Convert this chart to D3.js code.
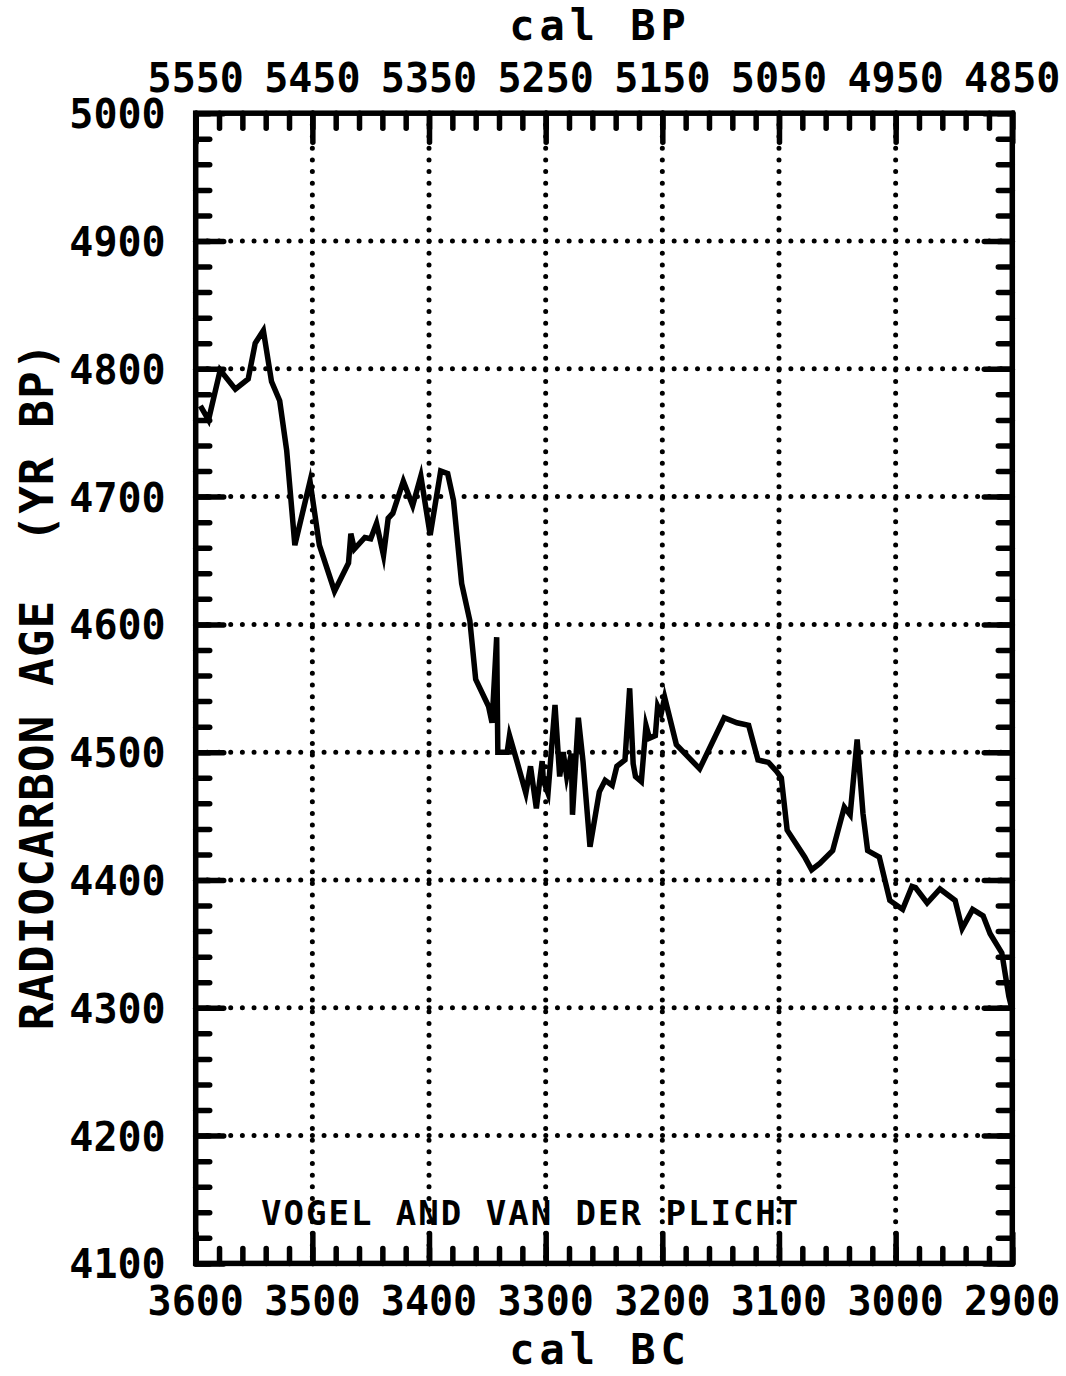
<!DOCTYPE html>
<html>
<head>
<meta charset="utf-8">
<script src="https://cdn.jsdelivr.net/npm/d3@7"></script>
<style>
  body { margin: 0; background: #fff; }
  text { font-family: "DejaVu Sans Mono", monospace; font-weight: bold; fill: #000; }
</style>
</head>
<body>
<div id="chart"></div>
<script>
// calibration curve, cal BC vs radiocarbon age
const years = [3596, 3589, 3579, 3566, 3555, 3549, 3542, 3535, 3528, 3522, 3515, 3502, 3494, 3481,
  3469, 3467, 3464, 3455, 3450, 3445, 3439, 3435, 3431, 3422, 3414, 3407, 3399, 3390, 3384, 3379,
  3372, 3365, 3360, 3349, 3346, 3342, 3341, 3333, 3331, 3325, 3317, 3313, 3308, 3303, 3302, 3298,
  3292, 3288, 3285, 3282, 3278, 3277, 3272, 3268, 3262, 3254, 3249, 3243, 3239, 3232, 3228, 3225,
  3223, 3218, 3214, 3211, 3206, 3204, 3201, 3198, 3188, 3168, 3147, 3136, 3126, 3118, 3109, 3102,
  3098, 3093, 3078, 3072, 3065, 3054, 3044, 3039, 3033, 3028, 3024, 3014, 3005, 2994, 2986, 2983,
  2973, 2962, 2949, 2943, 2934, 2925, 2919, 2909, 2903, 2900];
const ages = [4771, 4760, 4799, 4784, 4792, 4820, 4830, 4790, 4775, 4736, 4662, 4712, 4662, 4626,
  4648, 4671, 4659, 4668, 4667, 4679, 4654, 4683, 4687, 4712, 4693, 4716, 4670, 4720, 4718, 4697,
  4632, 4603, 4557, 4536, 4523, 4590, 4500, 4500, 4513, 4494, 4468, 4489, 4456, 4493, 4478, 4468,
  4537, 4481, 4500, 4481, 4499, 4451, 4527, 4493, 4426, 4469, 4478, 4474, 4489, 4494, 4550, 4491,
  4481, 4477, 4521, 4511, 4513, 4536, 4530, 4543, 4506, 4487, 4527, 4523, 4521, 4494, 4492, 4485,
  4480, 4439, 4418, 4408, 4413, 4423, 4457, 4451, 4510, 4452, 4423, 4418, 4384, 4377, 4395, 4394,
  4382, 4393, 4384, 4362, 4377, 4372, 4358, 4343, 4309, 4298];

const xTicks = [3600, 3500, 3400, 3300, 3200, 3100, 3000, 2900];
const xTopLabels = ["5550", "5450", "5350", "5250", "5150", "5050", "4950", "4850"];
const yTicks = [4100, 4200, 4300, 4400, 4500, 4600, 4700, 4800, 4900, 5000];
const note = "VOGEL AND VAN DER PLICHT";

const width = 1066, height = 1376;
const margin = { top: 113.2, right: 53.7, bottom: 112.6, left: 195.7 };
const w = width - margin.left - margin.right,
  h = height - margin.top - margin.bottom;

const svg = d3.select('#chart')
  .append('svg')
  .attr('width', width)
  .attr('height', height);

const g = svg.append('g')
  .attr('transform', `translate(${margin.left}, ${margin.top})`);

const x = d3.scaleLinear().domain([3600, 2900]).range([0, w]);
const y = d3.scaleLinear().domain([4100, 5000]).range([h, 0]);

const minorX = d3.range(3600, 2899, -20);
const minorY = d3.range(4100, 5001, 20);

// dotted grid
g.selectAll('.gx')
  .data(xTicks.slice(1, -1))
  .join('line')
  .attr('x1', d => x(d)).attr('x2', d => x(d))
  .attr('y1', 0).attr('y2', h)
  .attr('stroke', '#000').attr('stroke-width', 5)
  .attr('stroke-linecap', 'round')
  .attr('stroke-dasharray', '0,11.67');
g.selectAll('.gy')
  .data(yTicks.slice(1, -1))
  .join('line')
  .attr('y1', d => y(d)).attr('y2', d => y(d))
  .attr('x1', 0).attr('x2', w)
  .attr('stroke', '#000').attr('stroke-width', 5)
  .attr('stroke-linecap', 'round')
  .attr('stroke-dasharray', '0,11.67');

// inward ticks on all four sides
function tickAxis(axis, tr, vals, size) {
  const a = g.append('g')
    .attr('transform', tr)
    .call(axis.tickValues(vals).tickSize(size).tickFormat(''));
  a.select('.domain').remove();
  a.selectAll('line').attr('stroke', '#000').attr('stroke-width', 5.5).attr('stroke-linecap', 'round');
}
tickAxis(d3.axisBottom(x), `translate(0,${h})`, minorX, -15);
tickAxis(d3.axisBottom(x), `translate(0,${h})`, xTicks, -30);
tickAxis(d3.axisTop(x), 'translate(0,0)', minorX, -15);
tickAxis(d3.axisTop(x), 'translate(0,0)', xTicks, -29);
tickAxis(d3.axisLeft(y), 'translate(0,0)', minorY, -14);
tickAxis(d3.axisLeft(y), 'translate(0,0)', yTicks, -28);
tickAxis(d3.axisRight(y), `translate(${w},0)`, minorY, -14);
tickAxis(d3.axisRight(y), `translate(${w},0)`, yTicks, -28);

// frame
g.append('rect')
  .attr('width', w).attr('height', h)
  .attr('fill', 'none').attr('stroke', '#000').attr('stroke-width', 5.5);

// the curve
const line = d3.line()
  .x((d, i) => x(years[i]))
  .y(d => y(d));
g.append('path')
  .datum(ages)
  .attr('d', line)
  .attr('fill', 'none')
  .attr('stroke', '#000')
  .attr('stroke-width', 5.5)
  .attr('stroke-linejoin', 'miter')
  .attr('stroke-miterlimit', 6);

// tick labels
g.selectAll('.xl')
  .data(xTicks)
  .join('text')
  .attr('x', d => x(d)).attr('y', h + 52)
  .attr('text-anchor', 'middle')
  .style('font-size', '40px')
  .text(d => d);
g.selectAll('.xt')
  .data(xTicks)
  .join('text')
  .attr('x', d => x(d)).attr('y', -21)
  .attr('text-anchor', 'middle')
  .style('font-size', '40px')
  .text((d, i) => xTopLabels[i]);
g.selectAll('.yl')
  .data(yTicks)
  .join('text')
  .attr('x', -30).attr('y', d => y(d) + 15)
  .attr('text-anchor', 'end')
  .style('font-size', '40px')
  .text(d => d);

// axis titles
svg.append('text')
  .attr('x', 600).attr('y', 40)
  .attr('text-anchor', 'middle')
  .style('font-size', '42px').style('letter-spacing', '5px')
  .text('cal BP');
svg.append('text')
  .attr('x', 600).attr('y', 1364)
  .attr('text-anchor', 'middle')
  .style('font-size', '42px').style('letter-spacing', '5px')
  .text('cal BC');
svg.append('text')
  .attr('transform', 'translate(53,686) rotate(-90)')
  .attr('text-anchor', 'middle')
  .style('font-size', '46px').style('letter-spacing', '1px')
  .style('white-space', 'pre')
  .text('RADIOCARBON AGE  (YR BP)');

// source note
g.append('text')
  .attr('x', x(3544)).attr('y', y(4130))
  .style('font-size', '34px').style('letter-spacing', '2px')
  .style('white-space', 'pre')
  .text(note);
</script>
</body>
</html>
